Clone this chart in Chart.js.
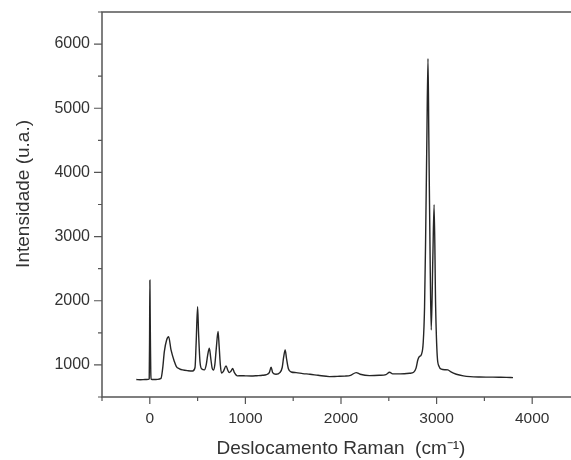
<!DOCTYPE html>
<html>
<head>
<meta charset="utf-8">
<script src="https://cdn.jsdelivr.net/npm/chart.js@4.4.1/dist/chart.umd.min.js"></script>
<style>
  html, body { margin: 0; padding: 0; overflow: hidden; background: #fff; }
  #wrap { position: absolute; left: 0; top: 0; width: 600px; height: 460px; }
</style>
</head>
<body>
<div id="wrap"><canvas id="raman" width="600" height="460"></canvas></div>
<script>
// Raman spectrum
const shift = [
  -141, -100, -50, -15, -6, -2, 1, 4, 7, 10, 14, 40, 80, 117, 135, 152, 176, 197, 222, 257, 278, 310, 343, 400, 448,
  473, 485, 500, 510, 525, 545, 571, 590, 605, 623, 638, 652, 665, 680, 695, 714, 725, 738, 749, 770, 798, 815, 832,
  850, 867, 885, 916, 960, 1000, 1060, 1120, 1180, 1220, 1250, 1269, 1285, 1320, 1360, 1385, 1400, 1416, 1430, 1450,
  1480, 1531, 1600, 1675, 1760, 1880, 1960, 2040, 2100, 2159, 2200, 2298, 2400, 2470, 2508, 2540, 2620, 2717, 2760,
  2785, 2804, 2820, 2840, 2860, 2874, 2885, 2898, 2910, 2919, 2934, 2944, 2961, 2974, 2990, 3007, 3025, 3049, 3090,
  3118, 3150, 3206, 3280, 3351, 3450, 3550, 3650, 3730, 3799
];
const intensity = [
  772, 770, 772, 775, 785, 1500, 2321, 1800, 1280, 900, 780, 772, 775, 790, 950, 1207, 1389, 1440, 1233, 1052, 974, 940, 922, 910, 906,
  960, 1350, 1907, 1500, 1050, 935, 922, 1000, 1150, 1260, 1100, 950, 920, 1000, 1250, 1520, 1300, 1000, 875, 900, 985, 920, 880,
  905, 943, 880, 830, 832, 830, 828, 832, 838, 850, 880, 964, 880, 855, 880, 960, 1120, 1234, 1100, 940,
  890, 880, 865, 855, 838, 818, 822, 826, 838, 880, 855, 833, 838, 850, 886, 860, 860, 870, 885,
  950, 1080, 1130, 1160, 1350, 1900, 2950, 4500, 5775, 4500, 2430, 1545, 2700, 3495, 1906, 1130, 980, 933, 925,
  922, 890, 855, 830, 818, 812, 810, 808, 806, 802
];
const xTickValues = [0, 1000, 2000, 3000, 4000];
const yTickValues = [1000, 2000, 3000, 4000, 5000, 6000];

const points = shift.map((x, i) => ({ x: x, y: intensity[i] }));

// frame + outward major/minor tick marks
const frameTicks = {
  id: 'frameTicks',
  afterDraw(chart) {
    const ctx = chart.ctx;
    const a = chart.chartArea;
    const xs = chart.scales.x, ys = chart.scales.y;
    ctx.save();
    ctx.strokeStyle = '#555';
    ctx.lineWidth = 1.5;
    ctx.strokeRect(a.left, a.top, a.right - a.left, a.bottom - a.top);
    ctx.lineWidth = 1.2;
    ctx.beginPath();
    for (let v = xs.min; v <= xs.max; v += 500) {
      const px = xs.getPixelForValue(v);
      const len = v % 1000 === 0 ? 7 : 4;
      ctx.moveTo(px, a.bottom);
      ctx.lineTo(px, a.bottom + len);
    }
    for (let v = ys.min; v <= ys.max; v += 500) {
      const py = ys.getPixelForValue(v);
      const len = v % 1000 === 0 ? 8 : 4;
      ctx.moveTo(a.left, py);
      ctx.lineTo(a.left - len, py);
    }
    ctx.stroke();
    ctx.restore();
  }
};

const fontFam = '"Liberation Sans", Arial, sans-serif';

function noEdgePadding(s) {
  s.paddingTop = 0; s.paddingBottom = 0;
  s.paddingLeft = 0; s.paddingRight = 0;
}

new Chart(document.getElementById('raman').getContext('2d'), {
  type: 'line',
  data: {
    datasets: [{
      data: points,
      borderColor: '#262626',
      borderWidth: 1.4,
      pointRadius: 0,
      cubicInterpolationMode: 'monotone',
      fill: false
    }]
  },
  options: {
    responsive: false,
    animation: false,
    devicePixelRatio: 1,
    layout: { padding: { left: 0, top: 12, right: 20, bottom: 0 } },
    plugins: { legend: { display: false }, tooltip: { enabled: false } },
    scales: {
      x: {
        type: 'linear',
        min: -500,
        max: 4500,
        afterBuildTicks: s => { s.ticks = xTickValues.map(v => ({ value: v })); },
        afterFit: s => { s.height = 63; noEdgePadding(s); },
        grid: { display: false, drawTicks: false },
        border: { display: false },
        ticks: {
          padding: 12, color: '#333', font: { family: fontFam, size: 15.5 },
          callback: v => String(v)
        },
        title: {
          display: true,
          text: 'Deslocamento Raman  (cm\u207B\u00B9)',
          color: '#333',
          font: { family: fontFam, size: 19 },
          padding: { top: 0, bottom: 0 }
        }
      },
      y: {
        min: 500,
        max: 6500,
        afterBuildTicks: s => { s.ticks = yTickValues.map(v => ({ value: v })); },
        afterFit: s => { s.width = 102; noEdgePadding(s); },
        grid: { display: false, drawTicks: false },
        border: { display: false },
        ticks: {
          padding: 12, color: '#333', font: { family: fontFam, size: 16 },
          callback: v => String(v)
        },
        title: {
          display: true,
          text: '    Intensidade (u.a.)',
          color: '#333',
          font: { family: fontFam, size: 19 },
          padding: { top: 12, bottom: 0 }
        }
      }
    }
  },
  plugins: [frameTicks]
});
</script>
</body>
</html>
